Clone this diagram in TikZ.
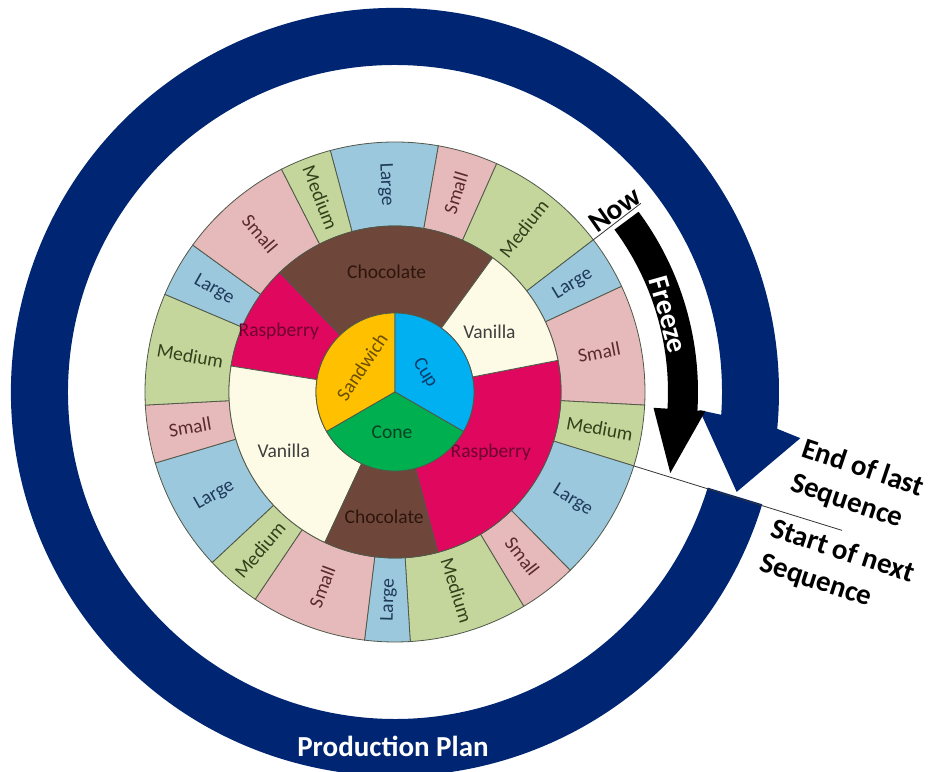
\documentclass[tikz,border=0pt]{standalone}
\usepackage{fontspec}
\setmainfont{Carlito}
\begin{document}
\begin{tikzpicture}[x=1pt,y=1pt]
% palette
\definecolor{navy}{HTML}{002673}
\definecolor{segline}{HTML}{505848}
\definecolor{cLarge}{HTML}{9CC8DE}
\definecolor{tLarge}{HTML}{1F3A5A}
\definecolor{cSmall}{HTML}{E6B9BA}
\definecolor{tSmall}{HTML}{5A2A2E}
\definecolor{cMedium}{HTML}{C4D69C}
\definecolor{tMedium}{HTML}{33401A}
\definecolor{cChocolate}{HTML}{6E463A}
\definecolor{tChocolate}{HTML}{2E150C}
\definecolor{cVanilla}{HTML}{FDFBE6}
\definecolor{tVanilla}{HTML}{3F3F3F}
\definecolor{cRaspberry}{HTML}{E0075F}
\definecolor{tRaspberry}{HTML}{6E0030}
\definecolor{cSandwich}{HTML}{FFC000}
\definecolor{tSandwich}{HTML}{6B4E00}
\definecolor{cCup}{HTML}{00B0F0}
\definecolor{tCup}{HTML}{0B3C6E}
\definecolor{cCone}{HTML}{00B050}
\definecolor{tCone}{HTML}{0B4020}

\tikzset{
  seg/.style={draw=segline, line width=0.8pt},
  wheeltext/.style={font=\fontsize{19.5}{22}\selectfont, inner sep=0pt},
  bigtext/.style={font=\fontsize{29}{36}\selectfont\bfseries, inner sep=0pt},
  thinline/.style={draw=black!80, line width=0.8pt},
}

\useasboundingbox (-395,-379) rectangle (539,392);
\clip (-395,-379) rectangle (539,392);

% production plan ring with its arrowhead
\fill[navy] (-17:384pt) arc[start angle=-17, end angle=-365.5, radius=384pt]
  -- (-366.5:408pt) -- (-376.3:356pt) -- (-363.4:305pt) -- (-364:327pt)
  arc[start angle=-364, end angle=-17, radius=327pt] -- cycle;

% freeze arrow
\fill[black] (36.5:273pt) arc[start angle=36.5, end angle=-3.5, radius=273pt]
  -- (-3.5:259pt) -- (-16.4:287pt) -- (-3.5:311pt) -- (-3.5:303pt)
  arc[start angle=-3.5, end angle=36.5, radius=303pt] -- cycle;

% outer ring: sizes
\foreach \a/\b/\lab [count=\i] in {80/105/Large, 66/80/Small, 37.5/66/Medium,
    25/37.5/Large, -3/25/Small, -17.2/-3/Medium, -45.5/-17.2/Large,
    -59/-45.5/Small, -86.5/-59/Medium, -97/-86.5/Large, -124/-97/Small,
    -137/-124/Medium, -163.5/-137/Large, -177/-163.5/Small, -203/-177/Medium,
    -216/-203/Large, -243/-216/Small, -255/-243/Medium} {
  \pgfmathsetmacro\m{(\a+\b)/2}
  \pgfmathsetmacro\rot{cos(\m)<0 ? \m-180 : \m}
  \filldraw[seg, fill=c\lab] (\a:166pt) arc[start angle=\a, end angle=\b, radius=166pt]
    -- (\b:250pt) arc[start angle=\b, end angle=\a, radius=250pt] -- cycle;
  \node[wheeltext, text=t\lab, rotate=\rot] (size-\i) at (\m:208pt) {\lab};
}

% middle ring: flavours
\foreach \a/\b/\lab/\lr [count=\i] in {54/134/Chocolate/120, 134/171/Raspberry/131,
    171/245/Vanilla/126, 245/285/Chocolate/125, 285/371/Raspberry/113,
    371/414/Vanilla/112} {
  \pgfmathsetmacro\m{(\a+\b)/2}
  \filldraw[seg, fill=c\lab] (\a:79pt) arc[start angle=\a, end angle=\b, radius=79pt]
    -- (\b:166pt) arc[start angle=\b, end angle=\a, radius=166pt] -- cycle;
  \node[wheeltext, text=t\lab] (flavour-\i) at (\m:\lr pt) {\lab};
}

% centre: serving types
\foreach \a/\b/\lab in {90/210/Sandwich, -30/90/Cup, 210/330/Cone} {
  \filldraw[seg, fill=c\lab] (0,0) -- (\a:79pt)
    arc[start angle=\a, end angle=\b, radius=79pt] -- cycle;
}
\node[wheeltext, text=tSandwich, rotate=56] (sandwich) at (-33,25) {Sandwich};
\node[wheeltext, text=tCup, rotate=-58] (cup) at (30,19) {Cup};
\node[wheeltext, text=tCone] (cone) at (-3,-40) {Cone};

% markers for "now" and the sequence boundary
\coordinate (nowin) at (37.5:250pt);
\coordinate (nowout) at (37.5:310pt);
\draw[thinline] (nowin) -- (nowout);
\coordinate (seqin) at (-17.2:250pt);
\coordinate (seqout) at (-17.2:468pt);
\draw[thinline] (seqin) -- (seqout);

% captions
\node[bigtext, rotate=35] (now) at (220,182) {Now};
\node[bigtext, text=white, rotate=-74.2] (freeze) at (15.8:284pt) {Freeze};
\node[bigtext, rotate=-18.5, align=left] (endlast) at (462,-94) {End of last\\Sequence};
\node[bigtext, rotate=-18, align=left] (startnext) at (442,-177) {Start of next\\Sequence};
\node[bigtext, text=white] (plan) at (-2,-354) {Production Plan};
\end{tikzpicture}
\end{document}
